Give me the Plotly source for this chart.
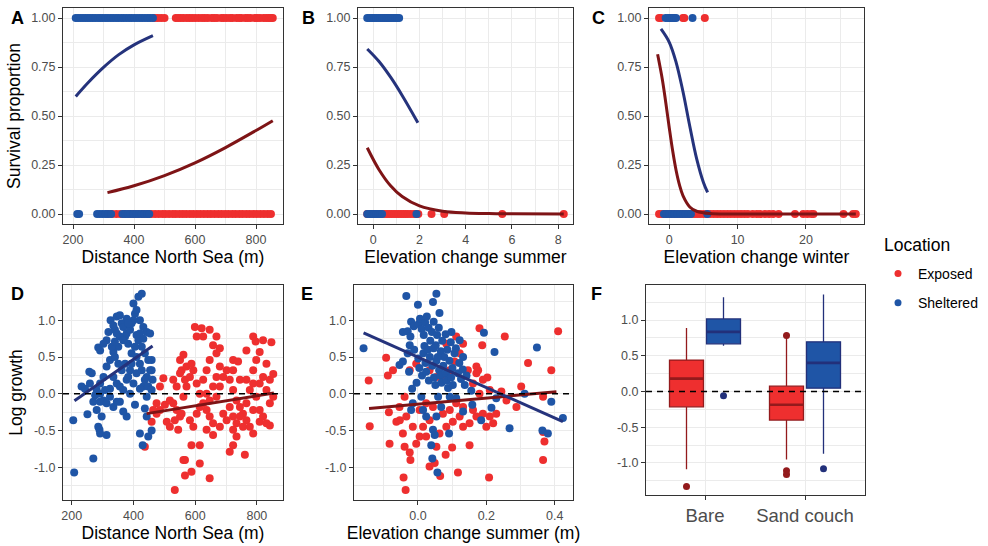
import plotly.graph_objects as go

# ------------------------------------------------------------------ data
LOCATIONS = ["Exposed", "Sheltered"]
LEGEND_TITLE = "Location"

# A: survival (0/1) vs distance North Sea (m)
A_exp_surv1_x = [468, 478, 489, 500, 537, 545, 553, 562, 573, 582, 591, 601, 612, 623, 632, 642, 655, 663, 672, 686, 694, 704,
                 715, 723, 736, 745, 752, 765, 773, 782, 796, 804, 813, 825, 834, 842, 849, 855]
A_exp_surv0_x = [313, 328, 342, 355, 369, 384, 398, 413, 429, 444, 457, 469, 481, 493, 503, 515, 527, 537, 549, 560, 571, 583,
                 594, 606, 617, 629, 641, 652, 664, 676, 687, 699, 710, 722, 733, 745, 756, 768, 779, 791, 802, 814, 826, 838, 849]
A_she_surv1_x = [209, 217, 225, 233, 241, 249, 257, 265, 273, 282, 290, 298, 307, 315, 324, 332, 341, 349, 358, 366, 375, 384,
                 392, 401, 410, 419, 427, 436, 445, 453, 462]
A_she_surv0_x = [214, 220, 279, 288, 297, 306, 315, 325, 362, 371, 380, 389, 398, 407, 416, 425, 434, 443, 450]
A_exp_fit_x = [313, 400, 500, 600, 700, 800, 855]
A_exp_fit_y = [0.109, 0.144, 0.196, 0.261, 0.339, 0.426, 0.476]
A_she_fit_x = [209, 250, 300, 350, 400, 462]
A_she_fit_y = [0.600, 0.671, 0.748, 0.813, 0.863, 0.910]

# B: survival vs elevation change summer
B_exp_surv1_x = [0.45, 0.6, 0.72]
B_exp_surv0_x = [-0.26, -0.1, 0.05, 0.2, 0.35, 0.5, 0.6, 0.7, 0.8, 0.9, 1.0, 1.1, 1.2, 1.3, 1.4, 1.5, 1.62, 1.75, 1.85, 1.95,
                 2.52, 3.07, 5.58, 8.24]
B_she_surv1_x = [-0.26, -0.18, -0.1, -0.02, 0.06, 0.14, 0.22, 0.3, 0.38, 0.46, 0.55, 0.63, 0.71, 0.8, 0.88, 0.96, 1.04, 1.12]
B_she_surv0_x = [-0.26, -0.18, -0.1, -0.02, 0.06, 0.14, 0.22, 0.3, 0.38, 1.87]
B_exp_fit_x = [-0.26, 0.25, 0.75, 1.25, 2.0, 3.0, 4.0, 5.0, 6.0, 8.24]
B_exp_fit_y = [0.338, 0.226, 0.144, 0.089, 0.041, 0.014, 0.005, 0.002, 0.001, 0.0]
B_she_fit_x = [-0.26, 0.25, 0.75, 1.25, 1.93]
B_she_fit_y = [0.842, 0.778, 0.698, 0.605, 0.466]

# C: survival vs elevation change winter
C_exp_surv1_x = [-1.5, -1.2, 0.2, 0.6, 2.0, 2.2, 5.2]
C_exp_surv0_x = [-1.5, -1.1, -0.7, -0.3, 0.1, 0.5, 0.9, 1.3, 1.7, 2.1, 2.5, 2.9, 3.3, 3.7, 4.1, 4.5, 5.0, 5.5, 6.0, 6.5, 7.0,
                 7.5, 8.0, 8.5, 9.0, 9.5, 10.0, 10.5, 11.0, 11.5, 12.2, 12.8, 13.3, 14.0, 14.6, 15.2, 16.0, 18.4, 19.6, 20.2,
                 20.8, 21.1, 25.5, 26.9, 27.3]
C_she_surv1_x = [-0.53, -0.2, 0.1, 0.4, 0.7, 0.98, 3.4]
C_she_surv0_x = [-0.78, -0.4, 0.0, 0.4, 0.8, 1.2, 1.6, 2.0, 2.4, 2.8, 3.17, 5.56]
C_exp_fit_x = [-1.71, -1.0, -0.5, 0.0, 0.5, 1.0, 1.5, 2.0, 3.0, 4.0, 6.0, 10.0, 27.3]
C_exp_fit_y = [0.815, 0.683, 0.565, 0.439, 0.321, 0.222, 0.147, 0.094, 0.036, 0.014, 0.002, 0.0, 0.0]
C_she_fit_x = [-1.22, 0.0, 1.0, 2.0, 3.0, 4.0, 5.0, 5.61]
C_she_fit_y = [0.944, 0.876, 0.774, 0.625, 0.448, 0.283, 0.161, 0.110]

# D: log growth vs distance North Sea (m)
D_she_x = [205, 208, 270, 251, 232, 257, 265, 286, 292, 286, 290, 292, 313, 297, 281, 303, 324, 326, 346, 356, 362, 340, 367,
           378, 400, 405, 410, 400, 416, 427, 421, 432, 443, 454, 459, 462, 454, 443, 432, 421, 410, 394, 383, 373, 351, 335,
           324, 313, 303, 292, 281, 276, 292, 313, 335, 356, 367, 378, 389, 400, 410, 427, 437, 448, 459, 443, 437, 443, 421,
           430, 448, 459, 378, 367, 405, 383, 362, 351, 340, 330, 313, 303, 356, 367, 389, 394, 416, 427, 437, 448, 459, 346,
           335, 356, 373, 394, 405, 346, 378, 383, 335, 319, 340, 410, 421, 432, 259, 243, 270, 292, 308, 324, 346, 389, 421]
D_she_y = [-0.36, -1.07, -0.88, -0.28, 0.10, 0.30, 0.28, 0.63, 0.59, -0.45, -0.49, -0.54, -0.56, -0.31, -0.22, -0.09, -0.04,
           1.00, 1.05, 1.07, 0.96, 0.87, 0.91, 0.82, 1.00, 1.09, 1.14, 1.23, 1.32, 1.36, 1.00, 0.91, 0.84, 0.82, 0.46, 0.19,
           0.32, 0.23, 0.10, 0.41, 0.50, 0.55, 0.68, 0.78, 0.64, 0.57, 0.46, 0.37, 0.23, 0.14, 0.05, -0.02, -0.11, -0.13,
           -0.18, -0.11, 0.05, 0.19, 0.32, 0.14, 0.28, 0.32, 0.19, 0.10, 0.05, -0.04, -0.20, -0.31, -0.54, -0.70, -0.58,
           -0.50, -0.31, -0.24, -0.15, 0.23, 0.32, 0.41, 0.50, 0.64, 0.73, 0.68, 0.78, 0.73, 0.87, 0.96, 0.73, 0.64, 0.55,
           0.46, 0.32, 0.14, 0.23, 0.10, 0.41, 0.41, 0.64, 0.82, 1.02, 0.96, 0.93, 0.84, 0.71, 0.80, 0.82, 0.75, 0.14, 0.07,
           -0.11, 0.0, 0.05, 0.07, -0.11, 0.0, 0.07]
D_exp_x = [437, 459, 475, 497, 486, 508, 534, 545, 551, 556, 562, 567, 562, 567, 588, 588, 615, 615, 647, 599, 605, 621, 626,
           647, 669, 680, 658, 723, 739, 766, 788, 796, 820, 831, 847, 809, 842, 761, 712, 723, 464, 475, 486, 502, 518, 529,
           540, 551, 562, 572, 567, 583, 594, 605, 615, 626, 637, 647, 658, 669, 680, 691, 702, 712, 723, 734, 745, 755, 766,
           777, 788, 798, 809, 820, 831, 842, 853, 583, 594, 605, 615, 637, 647, 658, 669, 680, 691, 702, 712, 723, 734, 745,
           755, 766, 777, 788, 798, 809, 820, 831, 556, 534, 518, 540, 529, 551, 572, 588, 626, 637, 647, 669, 723, 745, 766,
           788, 842, 853, 658, 680, 637, 734, 788, 723, 809]
D_exp_y = [-0.72, -0.38, -0.13, 0.21, 0.10, -0.38, -1.31, -0.49, 0.46, 0.32, 0.53, -0.90, -0.90, -1.11, -1.06, -0.70, -0.70,
           -0.95, -1.15, 0.91, 0.78, 0.89, 0.78, 0.87, 0.78, 0.62, 0.66, 0.46, 0.44, 0.59, 0.78, 0.71, 0.73, 0.41, 0.70,
           -0.38, -0.43, -0.83, -0.79, -0.70, -0.22, -0.27, -0.22, -0.15, -0.09, -0.13, -0.22, -0.31, -0.04, 0.10, 0.19,
           0.23, 0.32, 0.14, 0.0, -0.13, -0.22, -0.31, -0.40, -0.04, 0.10, 0.23, 0.32, 0.19, 0.05, -0.09, -0.18, -0.27,
           -0.36, -0.45, -0.22, -0.04, 0.14, 0.23, 0.05, -0.13, -0.04, -0.36, -0.45, -0.27, -0.18, 0.0, -0.09, 0.10, 0.23,
           0.37, -0.27, -0.36, -0.18, -0.31, -0.40, -0.31, -0.45, -0.13, 0.05, 0.32, 0.46, -0.22, -0.31, -0.40, -0.27,
           -0.36, -0.45, 0.10, 0.19, 0.28, 0.37, 0.41, 0.19, 0.32, 0.46, 0.55, 0.32, 0.19, 0.19, 0.14, 0.19, 0.27, -0.56,
           -0.45, -0.49, -0.58, -0.54, -0.49, 0.57]
D_exp_fit_x = [443, 855]
D_exp_fit_y = [-0.27, 0.01]
D_she_fit_x = [209, 462]
D_she_fit_y = [-0.095, 0.65]

# E: log growth vs elevation change summer (m)
E_she_x = [-0.159, -0.034, 0.054, 0.0, 0.044, 0.063, -0.02, 0.193, 0.224, 0.348, 0.132, 0.122, 0.098, 0.156, 0.159, 0.132,
           0.215, 0.229, 0.185, 0.268, 0.312, 0.39, 0.424, 0.364, 0.38, 0.091, 0.044, 0.039, 0.042, 0.057, 0.049, 0.024,
           0.015, -0.02, -0.015, -0.017, -0.044, -0.054, -0.03, -0.024, -0.044, 0.01, 0.059, 0.093, 0.112, 0.068, 0.054,
           -0.03, -0.022, -0.012, 0.002, 0.006, 0.011, 0.017, 0.021, 0.026, 0.031, 0.036, 0.041, 0.046, 0.052, 0.056, 0.061,
           0.067, 0.071, 0.077, 0.081, 0.086, 0.092, 0.096, 0.101, 0.107, 0.111, 0.117, 0.121, 0.126, 0.131, 0.137, 0.142,
           -0.011, 0.001, 0.004, 0.012, 0.016, 0.022, 0.024, 0.032, 0.035, 0.042, 0.047, 0.051, 0.054, 0.062, 0.066, 0.069,
           0.074, 0.082, 0.084, 0.088, 0.097, 0.102, -0.026, -0.004, 0.019, 0.029, 0.046, 0.058]
E_she_y = [0.62, 1.33, 1.36, 1.21, 1.25, 1.10, 0.98, 0.83, 0.57, 0.63, 0.50, 0.73, 0.84, 0.04, -0.15, -0.24, -0.19, -0.06,
           -0.36, -0.47, 0.0, -0.11, -0.33, -0.50, -0.54, -0.54, -0.49, -0.70, -0.88, -1.07, -0.56, -0.31, -0.22, -0.22,
           -0.13, 0.07, 0.44, 0.39, 0.55, 0.66, 0.84, -0.04, -0.04, -0.04, -0.06, -0.18, -0.31,
           0.85, 0.78, 0.92, 0.95, 1.02, 0.88, 0.80, 0.97, 1.05, 0.90, 0.72, 0.84, 0.98, 0.66, 0.80, 0.90, 0.58, 0.72, 0.50,
           0.81, 0.60, 0.45, 0.70, 0.35, 0.55, 0.62, 0.28, 0.42, 0.20, 0.33, 0.12, 0.25,
           0.60, 0.48, 0.35, 0.25, 0.55, 0.42, 0.30, 0.18, 0.50, 0.38, 0.22, 0.12, 0.45, 0.32, 0.25, 0.15, 0.38, 0.28, 0.18,
           0.08, 0.22, 0.12, 0.30, 0.15, 0.65, 0.60, 0.62, 0.50]
E_exp_x = [-0.144, -0.093, -0.088, -0.073, -0.141, -0.085, -0.063, -0.053, -0.083, -0.044, -0.039, -0.024, -0.022, -0.042,
           -0.036, 0.034, 0.049, 0.065, 0.081, 0.10, 0.117, 0.151, 0.208, 0.18, 0.188, 0.254, 0.203, 0.176, 0.171, 0.244,
           0.259, 0.288, 0.302, 0.322, 0.39, 0.41, 0.366, 0.37, 0.366, 0.366, 0.21, 0.22, 0.20, 0.171, 0.151, 0.132, 0.122,
           0.102, 0.083, 0.063, 0.034, 0.015, 0.005, -0.005, -0.015, 0.005, 0.024, 0.044, 0.073, 0.093, 0.112, 0.132, 0.161,
           0.19, 0.229, -0.054, -0.039, -0.024, -0.005, 0.034, 0.054, 0.073, 0.093, 0.107, 0.122, 0.132, 0.112, 0.083, 0.146,
           0.161, 0.171, 0.19, 0.21, 0.18, -0.034, 0.024, 0.054]
E_exp_y = [0.18, 0.49, 0.25, 0.32, -0.44, -0.25, -0.38, -0.36, -0.68, -0.54, -0.72, -0.80, -0.90, -1.14, -1.31, -0.99, -0.94,
           -1.12, -0.83, -0.73, -1.07, -0.70, -1.14, 0.89, 0.66, 0.78, 0.22, 0.32, 0.28, 0.03, -0.09, -0.18, 0.10, 0.42, 0.32,
           0.85, -0.04, -0.65, -0.90, -0.52, -0.31, -0.40, -0.45, -0.31, -0.40, -0.45, -0.31, -0.38, -0.45, -0.54, -0.36,
           -0.45, -0.58, -0.68, -0.45, -0.22, -0.13, -0.18, -0.27, -0.22, -0.13, -0.18, -0.22, -0.27, -0.27, -0.18, -0.04,
           0.32, 0.41, 0.32, 0.23, 0.19, 0.32, 0.44, 0.55, 0.68, 0.78, 0.68, 0.32, 0.14, 0.37, 0.19, 0.05, 0.0, -0.31, -0.58,
           -0.72]
E_exp_fit_x = [-0.143, 0.405]
E_exp_fit_y = [-0.20, 0.027]
E_she_fit_x = [-0.159, 0.424]
E_she_fit_y = [0.83, -0.38]

# F: log growth by vegetation (box statistics)
F_categories = ["Bare", "Sand couch"]
F_exp_q1 = [-0.215, -0.40]
F_exp_median = [0.18, -0.186]
F_exp_q3 = [0.44, 0.075]
F_exp_lower = [-1.086, -0.95]
F_exp_upper = [0.89, 0.75]
F_exp_out_cat = [0, 1, 1, 1]
F_exp_out_y = [-1.33, 0.785, -1.11, -1.16]
F_she_q1 = [0.667, 0.047]
F_she_median = [0.834, 0.40]
F_she_q3 = [1.016, 0.695]
F_she_lower = [0.64, -0.872]
F_she_upper = [1.32, 1.357]
F_she_out_cat = [0, 1]
F_she_out_y = [-0.06, -1.08]

# ------------------------------------------------------------------ style
W, H = 988, 546
RED, BLUE = "#EE2F2F", "#1F55A6"
DRED, DBLUE = "#7E1416", "#25337C"
BOX_RED_LINE, BOX_BLUE_LINE = "#931A1C", "#22307A"
FONT = "Liberation Sans, Arial, Helvetica, sans-serif"
GRID = "#EBEBEB"
BORDER = "#333333"
TICKC = "#4D4D4D"
PT = 8
LW = 3
DODGE = 0.185
BOXW = 0.34


def px_dom(a, b, total):
    return [a / total, b / total]


def ydom(top, bottom):
    return [1 - bottom / H, 1 - top / H]


fig = go.Figure()


def pts(x, y, color, ax, size=PT):
    fig.add_trace(go.Scatter(x=x, y=y, mode="markers", marker=dict(color=color, size=size, line=dict(width=0)),
                             xaxis="x" + ax, yaxis="y" + ax, showlegend=False, hoverinfo="skip"))


def line(x, y, color, ax, shape="spline", width=LW):
    fig.add_trace(go.Scatter(x=x, y=y, mode="lines", line=dict(color=color, width=width, shape=shape),
                             xaxis="x" + ax, yaxis="y" + ax, showlegend=False, hoverinfo="skip"))


# A
pts(A_exp_surv1_x, [1] * len(A_exp_surv1_x), RED, "")
pts(A_exp_surv0_x, [0] * len(A_exp_surv0_x), RED, "")
pts(A_she_surv1_x, [1] * len(A_she_surv1_x), BLUE, "")
pts(A_she_surv0_x, [0] * len(A_she_surv0_x), BLUE, "")
line(A_exp_fit_x, A_exp_fit_y, DRED, "")
line(A_she_fit_x, A_she_fit_y, DBLUE, "")
# B
pts(B_exp_surv1_x, [1] * len(B_exp_surv1_x), RED, "2")
pts(B_exp_surv0_x, [0] * len(B_exp_surv0_x), RED, "2")
pts(B_she_surv1_x, [1] * len(B_she_surv1_x), BLUE, "2")
pts(B_she_surv0_x, [0] * len(B_she_surv0_x), BLUE, "2")
line(B_exp_fit_x, B_exp_fit_y, DRED, "2")
line(B_she_fit_x, B_she_fit_y, DBLUE, "2")
# C
pts(C_exp_surv1_x, [1] * len(C_exp_surv1_x), RED, "3")
pts(C_exp_surv0_x, [0] * len(C_exp_surv0_x), RED, "3")
pts(C_she_surv1_x, [1] * len(C_she_surv1_x), BLUE, "3")
pts(C_she_surv0_x, [0] * len(C_she_surv0_x), BLUE, "3")
line(C_exp_fit_x, C_exp_fit_y, DRED, "3")
line(C_she_fit_x, C_she_fit_y, DBLUE, "3")
# D
pts(D_exp_x, D_exp_y, RED, "4")
pts(D_she_x, D_she_y, BLUE, "4")
line(D_exp_fit_x, D_exp_fit_y, DRED, "4", "linear")
line(D_she_fit_x, D_she_fit_y, DBLUE, "4", "linear")
# E
pts(E_exp_x, E_exp_y, RED, "5")
pts(E_she_x, E_she_y, BLUE, "5")
line(E_exp_fit_x, E_exp_fit_y, DRED, "5", "linear")
line(E_she_fit_x, E_she_fit_y, DBLUE, "5", "linear")
# F boxes
cat_pos = list(range(len(F_categories)))
for q1, med, q3, lo, hi, off, fill, lc in [
    (F_exp_q1, F_exp_median, F_exp_q3, F_exp_lower, F_exp_upper, -DODGE, RED, BOX_RED_LINE),
    (F_she_q1, F_she_median, F_she_q3, F_she_lower, F_she_upper, DODGE, BLUE, BOX_BLUE_LINE),
]:
    xs = [p + off for p in cat_pos]
    fig.add_trace(go.Box(x=xs, q1=q1, median=med, q3=q3, lowerfence=lo, upperfence=hi,
                         width=BOXW, whiskerwidth=0, fillcolor=fill, line=dict(color=lc, width=1.3),
                         xaxis="x6", yaxis="y6", showlegend=False, hoverinfo="skip", boxpoints=False))
    # thicker median bar (ggplot fatten)
    for xc, m in zip(xs, med):
        line([xc - BOXW / 2, xc + BOXW / 2], [m, m], lc, "6", "linear", 2.6)
pts([c - DODGE for c in F_exp_out_cat], F_exp_out_y, BOX_RED_LINE, "6", 7)
pts([c + DODGE for c in F_she_out_cat], F_she_out_y, BOX_BLUE_LINE, "6", 7)

# legend entries
for name, col, grp in [(LOCATIONS[0], RED, "e"), (LOCATIONS[1], BLUE, "s")]:
    fig.add_trace(go.Scatter(x=[None], y=[None], mode="markers", name=name, legendgroup=grp,
                             marker=dict(color=col, size=7), showlegend=True))

# ------------------------------------------------------------------ axes
tickfont = dict(family=FONT, size=12.5, color=TICKC)
titlefont = dict(family=FONT, size=17.5, color="black")


def axis(domain, rng, tickvals, ticktext, minor_vals, title=None, anchor=None, standoff=5, tfont=None):
    d = dict(domain=domain, range=rng, tickmode="array", tickvals=tickvals, ticktext=ticktext,
             showgrid=True, gridcolor=GRID, gridwidth=1.1, zeroline=False,
             showline=True, linecolor=BORDER, linewidth=1, mirror=True,
             ticks="outside", ticklen=4, tickwidth=1, tickcolor=BORDER,
             tickfont=tfont or tickfont, anchor=anchor, fixedrange=True, automargin=False)
    if minor_vals:
        d["minor"] = dict(tickmode="array", tickvals=minor_vals, showgrid=True, gridcolor=GRID, gridwidth=0.55, ticks="")
    if title:
        d["title"] = dict(text=title, font=titlefont, standoff=standoff)
    return d


ytop = ydom(8, 224)
ybot = ydom(285, 500)
yF = ydom(285, 495)
surv_vals = [0, 0.25, 0.5, 0.75, 1.0]
surv_text = ["0.00", "0.25", "0.50", "0.75", "1.00"]
surv_minor = [0.125, 0.375, 0.625, 0.875]
lg_vals = [-1.0, -0.5, 0.0, 0.5, 1.0]
lg_text = ["-1.0", "-0.5", "0.0", "0.5", "1.0"]
lg_minor = [-1.25, -0.75, -0.25, 0.25, 0.75, 1.25]

layout = dict(
    width=W, height=H, margin=dict(l=0, r=0, t=0, b=0, autoexpand=False),
    paper_bgcolor="white", plot_bgcolor="white",
    font=dict(family=FONT, color="black"),
    xaxis=axis(px_dom(63, 283, W), [167.2, 888.5], [200, 400, 600, 800], ["200", "400", "600", "800"], [300, 500, 700],
               "Distance North Sea (m)", "y", 4),
    yaxis=axis(ytop, [-0.051, 1.051], surv_vals, surv_text, surv_minor, "Survival proportion", "x", 6),
    xaxis2=axis(px_dom(358, 573, W), [-0.66, 8.64], [0, 2, 4, 6, 8], ["0", "2", "4", "6", "8"], [1, 3, 5, 7],
                "Elevation change summer", "y2", 4),
    yaxis2=axis(ytop, [-0.051, 1.051], surv_vals, surv_text, surv_minor, None, "x2"),
    xaxis3=axis(px_dom(649, 864, W), [-2.97, 28.5], [0, 10, 20], ["0", "10", "20"], [5, 15, 25],
                "Elevation change winter", "y3", 4),
    yaxis3=axis(ytop, [-0.051, 1.051], surv_vals, surv_text, surv_minor, None, "x3"),
    xaxis4=axis(px_dom(63, 283, W), [171.8, 884.6], [200, 400, 600, 800], ["200", "400", "600", "800"], [300, 500, 700],
                "Distance North Sea (m)", "y4", 4),
    yaxis4=axis(ybot, [-1.445, 1.48], lg_vals, lg_text, lg_minor, "Log growth", "x4", 6),
    xaxis5=axis(px_dom(354, 573, W), [-0.187, 0.4535], [0.0, 0.2, 0.4], ["0.0", "0.2", "0.4"], [-0.1, 0.1, 0.3],
                "Elevation change summer (m)", "y5", 4),
    yaxis5=axis(ybot, [-1.445, 1.48], lg_vals, lg_text, lg_minor, None, "x5"),
    xaxis6=axis(px_dom(646, 865, W), [-0.59, 1.6], cat_pos, F_categories, None, None, "y6",
                tfont=dict(family=FONT, size=18.5, color=TICKC)),
    yaxis6=axis(yF, [-1.448, 1.49], lg_vals, lg_text, lg_minor, None, "x6"),
    legend=dict(x=878 / W, y=1 - 258 / H, xanchor="left", yanchor="top",
                font=dict(family=FONT, size=14, color="black"), bgcolor="rgba(0,0,0,0)",
                tracegroupgap=8, traceorder="grouped", itemsizing="trace"),
    showlegend=True,
)
fig.update_layout(**layout)

# legend title
fig.add_annotation(text=LEGEND_TITLE, x=882 / W, y=1 - 245 / H, xref="paper", yref="paper", showarrow=False,
                   xanchor="left", yanchor="middle", font=dict(family=FONT, size=17.5, color="black"))

# dashed zero reference lines
for ax in ["4", "5", "6"]:
    fig.add_shape(type="line", xref="x" + ax + " domain", yref="y" + ax, x0=0, x1=1, y0=0, y1=0,
                  line=dict(color="black", width=1.4, dash="6px,5px"), layer="above")

# panel letters
for lab, x, y in [("A", 17, 18), ("B", 308, 18), ("C", 598, 18), ("D", 17, 294), ("E", 307, 294), ("F", 596, 294)]:
    fig.add_annotation(text="<b>" + lab + "</b>", x=x / W, y=1 - y / H, xref="paper", yref="paper",
                       showarrow=False, xanchor="center", yanchor="middle",
                       font=dict(family=FONT, size=18, color="black"))

fig.write_html("out.html", config={"displayModeBar": False},
               post_script="document.body.style.margin='0';document.body.style.overflow='hidden';")
